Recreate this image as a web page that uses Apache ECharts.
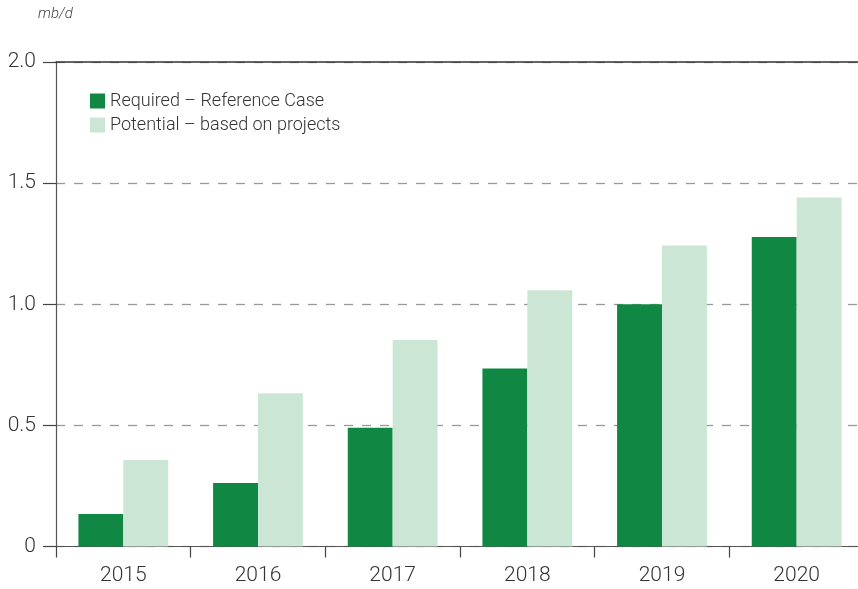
<!DOCTYPE html>
<html>
<head>
<meta charset="utf-8">
<script src="https://cdn.jsdelivr.net/npm/echarts@6/dist/echarts.min.js"></script>
<style>
html,body{margin:0;padding:0;background:#fff;overflow:hidden;width:858px;height:589px;}
#chart{width:868px;height:589px;}
</style>
</head>
<body>
<div id="chart"></div>
<script>
const categories = ['2015', '2016', '2017', '2018', '2019', '2020'];
const required = [0.134, 0.262, 0.49, 0.735, 1.0, 1.278];
const potential = [0.357, 0.633, 0.852, 1.058, 1.243, 1.441];
const yTickLabels = ['0', '0.5', '1.0', '1.5', '2.0'];
const seriesNames = ['Required – Reference Case', 'Potential – based on projects'];
const unitLabel = 'mb/d';

const FONT = 'Roboto';
const chart = echarts.init(document.getElementById('chart'), null, {renderer: 'canvas'});
chart.setOption({
  animation: false,
  backgroundColor: '#ffffff',
  textStyle: {fontFamily: FONT},
  title: {
    text: unitLabel, left: 33, top: 2,
    textStyle: {fontSize: 15, fontStyle: 'italic', fontWeight: 300, color: '#444', fontFamily: FONT}
  },
  legend: {
    orient: 'vertical', left: 90, top: 92, padding: 0,
    icon: 'rect', itemWidth: 15, itemHeight: 15, itemGap: 6,
    textStyle: {fontSize: 18, color: '#333', fontWeight: 300, fontFamily: FONT},
    data: seriesNames
  },
  grid: {left: 56, top: 62, width: 808, height: 484.5, containLabel: false},
  xAxis: [{
    type: 'category', data: categories, position: 'bottom',
    axisLine: {show: true, lineStyle: {color: '#555', width: 1.2}},
    axisTick: {show: true, length: 11, lineStyle: {color: '#444', width: 1.2}},
    axisLabel: {fontSize: 21, color: '#333', fontWeight: 300, margin: 19, fontFamily: FONT},
    splitLine: {show: false}
  }, {
    type: 'category', data: categories, position: 'top',
    axisLine: {show: true, lineStyle: {color: '#333', width: 1.5}},
    axisTick: {show: false}, axisLabel: {show: false}
  }],
  yAxis: {
    type: 'value', min: 0, max: 2, interval: 0.5,
    axisLine: {show: true, lineStyle: {color: '#555', width: 1.2}},
    axisTick: {show: true, length: 13, lineStyle: {color: '#444', width: 1.2}},
    axisLabel: {
      fontSize: 21, color: '#333', fontWeight: 300, margin: 20, fontFamily: FONT,
      formatter: function (v) { return yTickLabels[Math.round(v / 0.5)]; }
    },
    splitLine: {show: true, lineStyle: {color: '#999', width: 1.3, type: [9, 9]}}
  },
  series: [{
    name: seriesNames[0], type: 'bar', data: required,
    barGap: '0%', barCategoryGap: '33.3%',
    itemStyle: {color: '#108844'}
  }, {
    name: seriesNames[1], type: 'bar', data: potential,
    barGap: '0%', barCategoryGap: '33.3%',
    itemStyle: {color: '#cce6d5'}
  }]
});
</script>
</body>
</html>
